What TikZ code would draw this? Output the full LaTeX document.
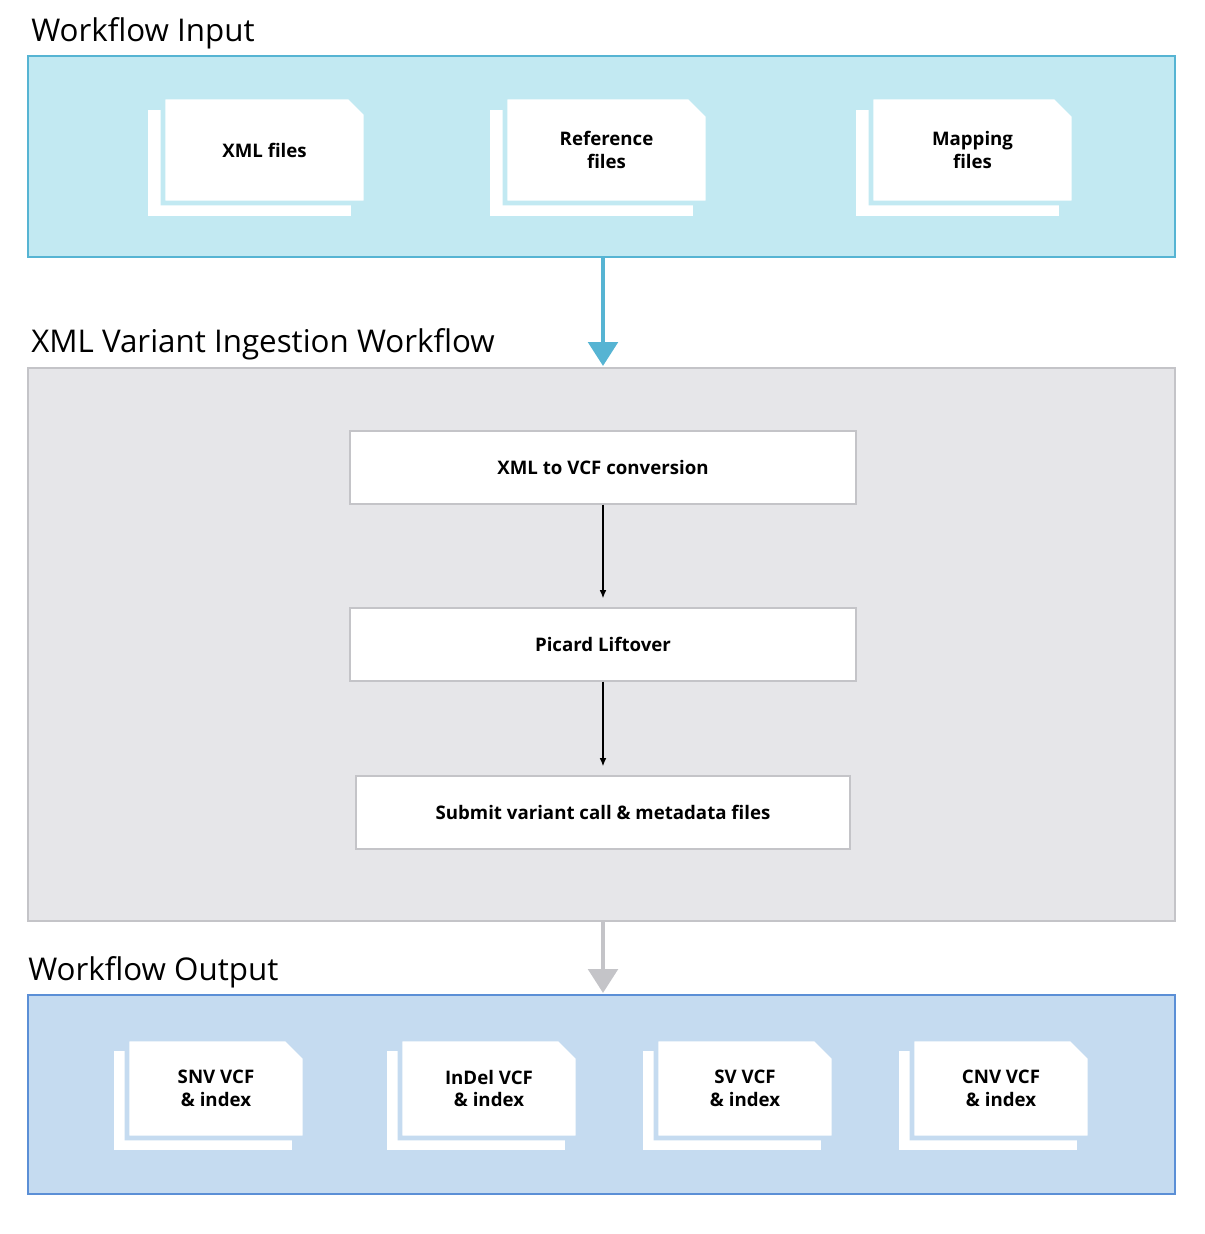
\documentclass[tikz,border=0pt]{standalone}
\usepackage{fontspec}
\setmainfont{Open Sans}
\usetikzlibrary{positioning,shapes.misc,arrows.meta,calc}
\definecolor{inbg}{HTML}{C2E9F2}
\definecolor{inline}{HTML}{56B4D3}
\definecolor{wfbg}{HTML}{E6E6E9}
\definecolor{wfline}{HTML}{C4C4C8}
\definecolor{outbg}{HTML}{C5DBF0}
\definecolor{outline}{HTML}{5B8FD6}
% #1 name, #2 centre, #3 width, #4 height, #5 gap colour, #6 back shift, #7 text
\newcommand{\filepair}[7]{%
	\fill[white] ($(#2)+(#6)$) ++(-#3/2,-#4/2) rectangle ++(#3,#4);
	\node[sheet, draw=#5, minimum width=#3*0.75pt, minimum height=#4*0.75pt] (#1) at (#2) {#7};
}
\begin{document}
\begin{tikzpicture}[%
	x=0.75pt, y=-0.75pt,
	title/.style={anchor=base west, font=\fontsize{23.5}{28}\selectfont, inner sep=0},
	group/.style={line width=1.5pt},
	stage/.style={draw=wfline, fill=white, line width=0.8pt, font=\bfseries\fontsize{14}{16}\selectfont},
	sheet/.style={chamfered rectangle, chamfered rectangle corners=north east,
		chamfered rectangle xsep=7pt, chamfered rectangle ysep=7pt, fill=white,
		line width=3.5pt, align=center, inner sep=0, font=\bfseries\fontsize{14}{17}\selectfont},
	flow/.style={-{Latex[length=6pt,width=5pt]}, line width=0.8pt},
	big/.style={-{Triangle[length=18pt,width=22pt]}, line width=3.5pt}
	]
	\useasboundingbox (0,0) rectangle (1204,1234);
	
	% input
	\node[title] (tin) at (31,42) {Workflow Input};
	\draw[group, draw=inline, fill=inbg] (28,56) rectangle (1175,257);
	\coordinate (inbot) at (603,257);
	\filepair{xml}{264.5,150}{203}{106}{inbg}{-15,13}{XML files}
	\filepair{ref}{606.5,150}{203}{106}{inbg}{-15,13}{Reference\\files}
	\filepair{map}{972.5,150}{203}{106}{inbg}{-15,13}{Mapping\\files}
	
	% workflow
	\node[title] (twf) at (31,352) {XML Variant Ingestion Workflow};
	\draw[group, draw=wfline, fill=wfbg] (28,368) rectangle (1175,921);
	\coordinate (wftop) at (603,366);
	\coordinate (wfbot) at (603,921);
	\node[stage, minimum width=506*0.75pt, minimum height=73*0.75pt] (conv) at (603,467.5) {XML to VCF conversion};
	\node[stage, minimum width=506*0.75pt, minimum height=73*0.75pt] (lift) at (603,644.5) {Picard Liftover};
	\node[stage, minimum width=494*0.75pt, minimum height=73*0.75pt] (sub) at (603,812.5) {Submit variant call \& metadata files};
	\draw[flow] (conv) -- ([yshift=7pt]lift.north);
	\draw[flow] (lift) -- ([yshift=7pt]sub.north);
	\draw[big, inline] (inbot) -- (wftop);
	
	% output
	\node[title] (tout) at (28,980) {Workflow Output};
	\draw[group, draw=outline, fill=outbg] (28,995) rectangle (1175,1194);
	\coordinate (outtop) at (603,993);
	\draw[big, wfline] (wfbot) -- (outtop);
	\filepair{snv}{216,1088.5}{178}{99}{outbg}{-13,12}{SNV VCF\\\& index}
	\filepair{indel}{489,1088.5}{178}{99}{outbg}{-13,12}{InDel VCF\\\& index}
	\filepair{sv}{745,1088.5}{178}{99}{outbg}{-13,12}{SV VCF\\\& index}
	\filepair{cnv}{1001,1088.5}{178}{99}{outbg}{-13,12}{CNV VCF\\\& index}
\end{tikzpicture}
\end{document}
